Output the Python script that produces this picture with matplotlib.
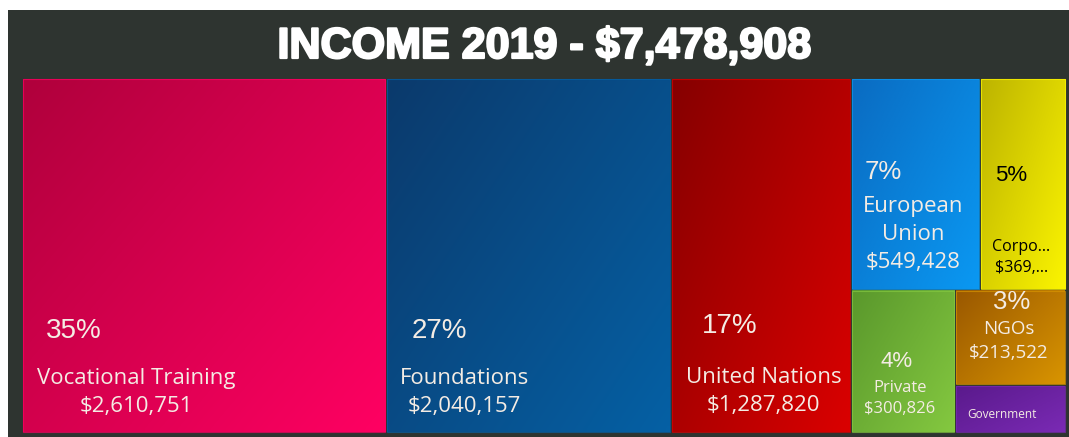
import matplotlib.pyplot as plt
import matplotlib.patheffects as pe
import numpy as np
from matplotlib.colors import LinearSegmentedColormap
from matplotlib.patches import Rectangle

# data
categories = ["Vocational Training", "Foundations", "United Nations", "European Union",
              "Corporate", "Private", "NGOs", "Government"]
values = [2610751, 2040157, 1287820, 549428, 369404, 300826, 213522, 107000]
total = 7478908
title = "INCOME 2019 - $7,478,908"

# how the names are shown on the tiles (wrapping / truncation as in the original)
shown_names = ["Vocational Training", "Foundations", "United Nations", "European\nUnion",
               "Corpo...", "Private", "NGOs", "Government"]
value_trunc = {4: 5}          # tile index -> characters kept before "..."
show_pct = [True, True, True, True, True, True, True, False]
show_value = [True, True, True, True, True, True, True, False]

# colours: (dark top-left, bright bottom-right)
grads = [("#b0003c", "#ff0062"), ("#0b3a6c", "#0560a4"), ("#860000", "#da0000"),
         ("#0a6cc2", "#0a98f2"), ("#bdb400", "#fbf400"), ("#5a982c", "#84c840"),
         ("#9a5800", "#d89400"), ("#5a1a8c", "#7a2ab4")]
text_cols = ["#f4ece4"] * 4 + ["black"] + ["#f4ece4"] * 3

# label placement as fractions of each tile: (pct x, pct y, label x, label y)
pct_pos = [(0.139, 0.715), (0.184, 0.715), (0.325, 0.70), (0.244, 0.443),
           (0.36, 0.462), (0.44, 0.50), (0.51, 0.12), (0.5, 0.5)]
lbl_pos = [(0.312, 0.887), (0.271, 0.887), (0.514, 0.886), (0.48, 0.74),
           (0.48, 0.85), (0.47, 0.764), (0.48, 0.538), (0.42, 0.61)]
pct_size = [20, 20, 20, 18.5, 16, 16, 18.5, 10]
lbl_size = [16, 16, 16, 16, 11.5, 12, 13.5, 8.5]

# nested split structure: 'h' = side by side, 'v' = stacked
structure = ('h', [0, 1, 2, ('v', [('h', [3, 4]), ('h', [5, ('v', [6, 7])])])])


def node_sum(node):
    if isinstance(node, int):
        return values[node]
    return sum(node_sum(c) for c in node[1])


def layout(node, x0, y0, x1, y1, out):
    if isinstance(node, int):
        out[node] = (x0, y0, x1, y1)
        return
    kind, kids = node
    s = node_sum(node)
    pos = x0 if kind == 'h' else y0
    for k in kids:
        frac = node_sum(k) / s
        if kind == 'h':
            step = (x1 - x0) * frac
            layout(k, pos, y0, pos + step, y1, out)
        else:
            step = (y1 - y0) * frac
            layout(k, x0, pos, x1, pos + step, out)
        pos += step


W, H = 1069, 437
fig = plt.figure(figsize=(W / 100, H / 100), dpi=100)
fig.patch.set_facecolor("white")
ax = fig.add_axes([0, 0, 1, 1])
ax.set_xlim(0, W)
ax.set_ylim(H, 0)
ax.axis("off")

ax.add_patch(Rectangle((8, 10), W - 8, H - 10, facecolor="#2e3430", edgecolor="none", zorder=0))

ax.text(544, 47, title, ha="center", va="center", fontsize=31, fontweight="bold",
        family="Liberation Sans", color="white",
        path_effects=[pe.withStroke(linewidth=1.6, foreground="white")])

rects = {}
layout(structure, 22, 78, 1066, 433, rects)

n = 60
gy, gx = np.mgrid[0:1:n * 1j, 0:1:n * 1j]
grad = (gx * 0.55 + gy * 0.45)

for i, cat in enumerate(categories):
    x0, y0, x1, y1 = rects[i]
    x0 += 1; y0 += 1; x1 -= 1; y1 -= 1
    cmap = LinearSegmentedColormap.from_list(cat, grads[i])
    ax.imshow(grad, cmap=cmap, extent=(x0, x1, y1, y0), aspect="auto",
              interpolation="bilinear", zorder=1)
    ax.add_patch(Rectangle((x0, y0), x1 - x0, y1 - y0, facecolor="none",
                           edgecolor=grads[i][1], lw=0.8, alpha=0.7, zorder=2))
    w, h = x1 - x0, y1 - y0

    if show_pct[i]:
        pct = round(values[i] / total * 100)
        ax.text(x0 + pct_pos[i][0] * w, y0 + pct_pos[i][1] * h, f"{pct}%",
                ha="center", va="center", fontsize=pct_size[i], family="Liberation Sans",
                color=text_cols[i], zorder=3)

    label = shown_names[i]
    if show_value[i]:
        vtxt = f"${values[i]:,}"
        if i in value_trunc:
            vtxt = vtxt[:value_trunc[i]] + "..."
        label = label + "\n" + vtxt
    ax.text(x0 + lbl_pos[i][0] * w, y0 + lbl_pos[i][1] * h, label,
            ha="center", va="center", multialignment="center", linespacing=1.45,
            fontsize=lbl_size[i], family="Open Sans", color=text_cols[i], zorder=3)

ax.set_xlim(0, W)
ax.set_ylim(H, 0)
fig.savefig("out.png", dpi=100)
